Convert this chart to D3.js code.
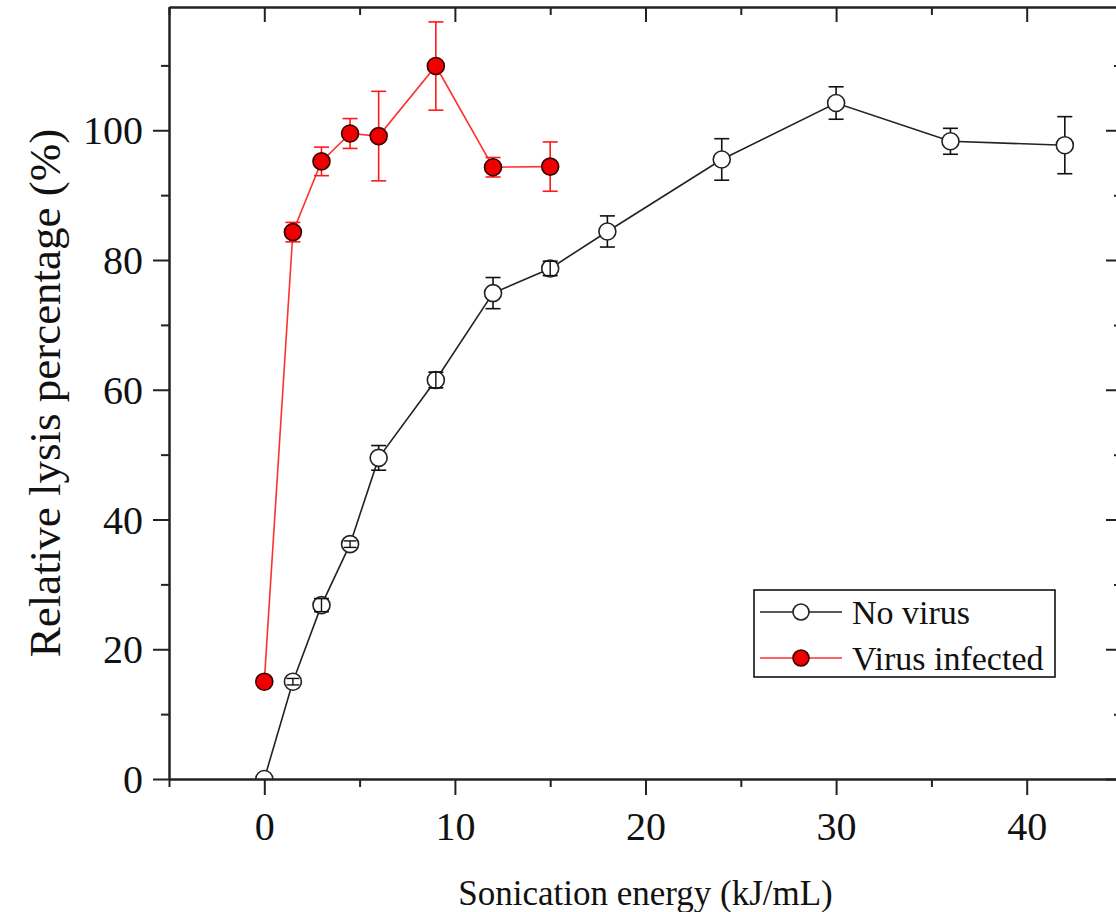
<!DOCTYPE html>
<html>
  <head>
    <meta charset="UTF-8">
    <title>Relative lysis percentage vs sonication energy</title>
    <script src="https://cdnjs.cloudflare.com/ajax/libs/d3/7.8.5/d3.min.js"></script>
    <style>
      body { margin: 0; background: #fff; }
      svg text { font-family: "Liberation Serif", "Times New Roman", serif; fill: #111; }
      .axis path, .axis line { stroke: #222; stroke-width: 2; }
    </style>
  </head>
  <body>
    <div id="chart"></div>
    <script>
      // data
      const energyNoVirus = [0, 1.5, 3, 4.5, 6, 9, 12, 15, 18, 24, 30, 36, 42];
      const lysisNoVirus  = [0, 15.0, 26.8, 36.2, 49.5, 61.5, 74.9, 78.7, 84.4, 95.5, 104.2, 98.3, 97.7];
      const errNoVirus    = [0, 0.5, 1.0, 0.5, 1.9, 1.2, 2.4, 1.1, 2.4, 3.2, 2.5, 2.0, 4.4];

      const energyVirus = [0, 1.5, 3, 4.5, 6, 9, 12, 15];
      const lysisVirus  = [15.0, 84.3, 95.2, 99.5, 99.1, 109.9, 94.3, 94.4];
      const errVirus    = [0, 1.5, 2.2, 2.3, 6.9, 6.8, 1.5, 3.8];

      const seriesNames = ["No virus", "Virus infected"];
      const xMajor = [0, 10, 20, 30, 40];
      const xMinor = [-5, 5, 15, 25, 35, 45];
      const yMajor = [0, 20, 40, 60, 80, 100];
      const yMinor = [10, 30, 50, 70, 90, 110];

      const width = 1116, height = 912;
      const margin = {top: 7, right: -6, bottom: 133, left: 169};
      const innerW = width - margin.left - margin.right;
      const innerH = height - margin.top - margin.bottom;

      const svg = d3.select("#chart").append("svg")
        .attr("width", width)
        .attr("height", height);

      const x = d3.scaleLinear().domain([-5, 45]).range([0, innerW]);
      const y = d3.scaleLinear().domain([0, 119]).range([innerH, 0]);

      const g = svg.append("g")
        .attr("transform", `translate(${margin.left},${margin.top})`);

      g.append("clipPath").attr("id", "plot-clip")
        .append("rect").attr("width", innerW).attr("height", innerH);

      const series = [
        {name: seriesNames[0], xs: energyNoVirus, ys: lysisNoVirus, es: errNoVirus,
         line: "#222", bar: "#111", fill: "#fff", edge: "#222"},
        {name: seriesNames[1], xs: energyVirus, ys: lysisVirus, es: errVirus,
         line: "#ff3030", bar: "#ff1a1a", fill: "#ee0000", edge: "#3a0000"}
      ].map(s => ({...s, pts: s.xs.map((v, i) => ({x: v, y: s.ys[i], e: s.es[i]}))}));

      const r = 8.5, cap = 7.5;
      const plot = g.append("g").attr("clip-path", "url(#plot-clip)");

      series.forEach(s => {
        const sg = plot.append("g");
        sg.append("path")
          .datum(s.pts)
          .attr("fill", "none")
          .attr("stroke", s.line)
          .attr("stroke-width", 1.6)
          .attr("d", d3.line().x(d => x(d.x)).y(d => y(d.y)));

        // error bars: stems outside the marker, caps at the ends
        const bars = sg.selectAll(".eb").data(s.pts.filter(d => d.e > 0)).enter()
          .append("g").attr("class", "eb")
          .attr("stroke", s.bar).attr("stroke-width", 1.6);
        bars.append("line")
          .attr("x1", d => x(d.x)).attr("x2", d => x(d.x))
          .attr("y1", d => y(d.y + d.e)).attr("y2", d => y(d.y - d.e));
        bars.selectAll(".cap").data(d => [d.y + d.e, d.y - d.e].map(v => ({x: d.x, v}))).enter()
          .append("line")
          .attr("x1", d => x(d.x) - cap).attr("x2", d => x(d.x) + cap)
          .attr("y1", d => y(d.v)).attr("y2", d => y(d.v));

        sg.selectAll("circle").data(s.pts).enter().append("circle")
          .attr("cx", d => x(d.x)).attr("cy", d => y(d.y))
          .attr("r", r)
          .attr("fill", s.fill)
          .attr("stroke", s.edge)
          .attr("stroke-width", 1.6);

        // short error bars stay visible over the marker
        sg.selectAll(".ebin").data(s.pts.filter(d => d.e > 0 && y(d.y) - y(d.y + d.e) < r)).enter()
          .append("g").attr("class", "ebin")
          .attr("stroke", s.bar).attr("stroke-width", 1.4)
          .each(function(d) {
            const sel = d3.select(this);
            sel.append("line").attr("x1", x(d.x)).attr("x2", x(d.x))
              .attr("y1", y(d.y + d.e)).attr("y2", y(d.y - d.e));
            [d.y + d.e, d.y - d.e].forEach(v => sel.append("line")
              .attr("x1", x(d.x) - cap + 1).attr("x2", x(d.x) + cap - 1)
              .attr("y1", y(v)).attr("y2", y(v)));
          });
      });

      // axes
      const fmt = d3.format("d");
      const styleLabels = sel => sel.selectAll("text")
        .style("font-size", "40px").attr("fill", "#111");

      g.append("g").attr("class", "axis")
        .attr("transform", `translate(0,${innerH})`)
        .call(d3.axisBottom(x).tickValues(xMinor).tickSize(8).tickSizeOuter(0).tickFormat(""));
      g.append("g").attr("class", "axis")
        .attr("transform", `translate(0,${innerH})`)
        .call(d3.axisBottom(x).tickValues(xMajor).tickSize(16).tickSizeOuter(0).tickFormat(fmt))
        .call(styleLabels)
        .call(a => a.selectAll("text").attr("dy", null).attr("y", 61));

      g.append("g").attr("class", "axis")
        .call(d3.axisTop(x).tickValues(xMinor).tickSize(-8).tickSizeOuter(0).tickFormat(""));
      g.append("g").attr("class", "axis")
        .call(d3.axisTop(x).tickValues(xMajor).tickSize(-15).tickSizeOuter(0).tickFormat(""));

      g.append("g").attr("class", "axis")
        .call(d3.axisLeft(y).tickValues(yMinor).tickSize(8).tickSizeOuter(0).tickFormat(""));
      g.append("g").attr("class", "axis")
        .call(d3.axisLeft(y).tickValues(yMajor).tickSize(16).tickSizeOuter(0).tickPadding(10).tickFormat(fmt))
        .call(styleLabels)
        .call(a => a.selectAll("text").attr("dy", "0.34em"));

      g.append("g").attr("class", "axis")
        .attr("transform", `translate(${innerW},0)`)
        .call(d3.axisRight(y).tickValues(yMinor).tickSize(-8).tickSizeOuter(0).tickFormat(""));
      g.append("g").attr("class", "axis")
        .attr("transform", `translate(${innerW},0)`)
        .call(d3.axisRight(y).tickValues(yMajor).tickSize(-16).tickSizeOuter(0).tickFormat(""));

      // axis titles
      g.append("text")
        .attr("x", x(20)).attr("y", innerH + 126)
        .attr("text-anchor", "middle")
        .style("font-size", "35px")
        .text("Sonication energy (kJ/mL)");

      g.append("text")
        .attr("transform", `translate(${60 - margin.left},${innerH / 2}) rotate(-90)`)
        .attr("text-anchor", "middle")
        .style("font-size", "45px")
        .text("Relative lysis percentage (%)");

      // legend
      const lg = svg.append("g").attr("transform", "translate(754,590)");
      lg.append("rect")
        .attr("width", 301).attr("height", 87)
        .attr("fill", "#fff").attr("stroke", "#111").attr("stroke-width", 1.6);
      const items = lg.selectAll(".item").data(series).enter().append("g")
        .attr("class", "item")
        .attr("transform", (d, i) => `translate(0,${22 + i * 46})`);
      items.append("line")
        .attr("x1", 6).attr("x2", 88)
        .attr("stroke", d => d.line).attr("stroke-width", 1.6);
      items.append("circle")
        .attr("cx", 47).attr("r", 8)
        .attr("fill", d => d.fill).attr("stroke", d => d.edge).attr("stroke-width", 1.6);
      items.append("text")
        .attr("x", 98).attr("dy", "0.35em")
        .style("font-size", "34px")
        .text(d => d.name);
    </script>
  </body>
</html>
